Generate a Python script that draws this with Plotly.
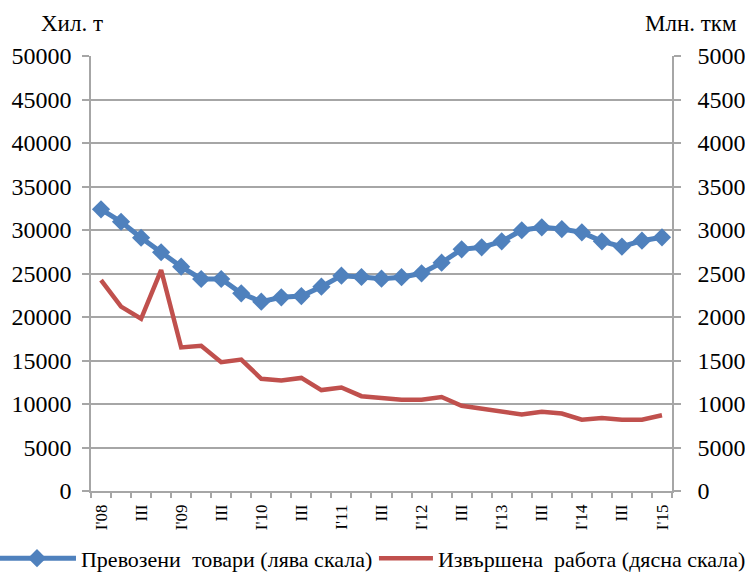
import plotly.graph_objects as go

# ---- data ----
quarters = []
for yr in range(8, 16):
    for q in ["I", "II", "III", "IV"]:
        quarters.append(f"{q}'{yr:02d}")
quarters = quarters[:29]  # I'08 ... I'15

tick_text = []
for c in quarters:
    q, yr = c.split("'")
    if q == "I":
        tick_text.append(f"I'{yr}")
    elif q == "III":
        tick_text.append("III")
    else:
        tick_text.append("")

goods = [32380, 30950, 29110, 27440, 25780, 24370, 24370, 22720, 21760, 22260,
         22410, 23480, 24750, 24600, 24400, 24580, 25020, 26240, 27780, 28010,
         28700, 29970, 30310, 30110, 29730, 28700, 28080, 28770, 29160]

work = [24250, 21200, 19800, 25400, 16500, 16700, 14800, 15100, 12900, 12700,
        13000, 11600, 11900, 10900, 10700, 10500, 10500, 10800, 9800, 9500,
        9200, 8800, 9100, 8900, 8200, 8400, 8200, 8200, 8700]

y_ticks = list(range(0, 50001, 5000))
y_tick_text = [str(v) for v in y_ticks]

name_goods = "Превозени  товари (лява скала)"
name_work = "Извършена  работа (дясна скала)"

FONT = "Liberation Serif"
GRID = "#A6A6A6"

fig = go.Figure()
fig.add_trace(go.Scatter(
    x=quarters, y=goods, name=name_goods, mode="lines+markers",
    line=dict(color="#4F81BD", width=5),
    marker=dict(symbol="diamond", size=14, color="#4F81BD"),
    yaxis="y", legend="legend",
))
fig.add_trace(go.Scatter(
    x=quarters, y=work, name=name_work, mode="lines",
    line=dict(color="#C0504D", width=4.5),
    yaxis="y2", legend="legend2",
))

leg_common = dict(
    orientation="h", y=-0.155, yanchor="middle",
    font=dict(family=FONT, size=22, color="black"),
    bgcolor="rgba(0,0,0,0)", xanchor="left",
)

fig.update_layout(
    width=745, height=572,
    margin=dict(l=91, r=73, t=56, b=81, autoexpand=False),
    paper_bgcolor="white", plot_bgcolor="white",
    font=dict(family=FONT, color="black", size=22),
    showlegend=True,
    legend=dict(x=-0.1687, itemwidth=78, **leg_common),
    legend2=dict(x=0.487, itemwidth=54, **leg_common),
    xaxis=dict(
        type="category", categoryorder="array", categoryarray=quarters,
        tickmode="array", tickvals=quarters, ticktext=tick_text,
        tickson="boundaries", ticks="outside", ticklen=5, tickcolor=GRID, tickwidth=1.5,
        tickangle=-90, tickfont=dict(family=FONT, size=17),
        ticklabelstandoff=5,
        showline=True, linecolor=GRID, linewidth=1.5,
        showgrid=False, zeroline=False,
        range=[-0.5, 28.5],
    ),
    yaxis=dict(
        range=[0, 50000], tickmode="array", tickvals=y_ticks, ticktext=y_tick_text,
        ticks="outside", ticklen=7, tickcolor=GRID, tickwidth=1.5,
        showline=True, linecolor=GRID, linewidth=1.5,
        showgrid=True, gridcolor=GRID, gridwidth=1.5,
        zeroline=False, tickfont=dict(family=FONT, size=24),
        ticklabelstandoff=6,
    ),
    yaxis2=dict(
        range=[0, 50000], tickmode="array", tickvals=y_ticks, ticktext=y_tick_text,
        overlaying="y", side="right",
        ticks="outside", ticklen=7, tickcolor=GRID, tickwidth=1.5,
        showline=True, linecolor=GRID, linewidth=1.5,
        showgrid=False, zeroline=False, tickfont=dict(family=FONT, size=24),
        ticklabelstandoff=12,
    ),
    annotations=[
        dict(text="Хил. т", xref="paper", yref="paper", x=-0.033, y=1.075,
             xanchor="center", yanchor="middle", showarrow=False,
             font=dict(family=FONT, size=23)),
        dict(text="Млн. ткм", xref="paper", yref="paper", x=1.033, y=1.075,
             xanchor="center", yanchor="middle", showarrow=False,
             font=dict(family=FONT, size=23)),
    ],
)

fig.write_html("out.html", config={"displayModeBar": False},
               post_script="document.body.style.margin='0';")
